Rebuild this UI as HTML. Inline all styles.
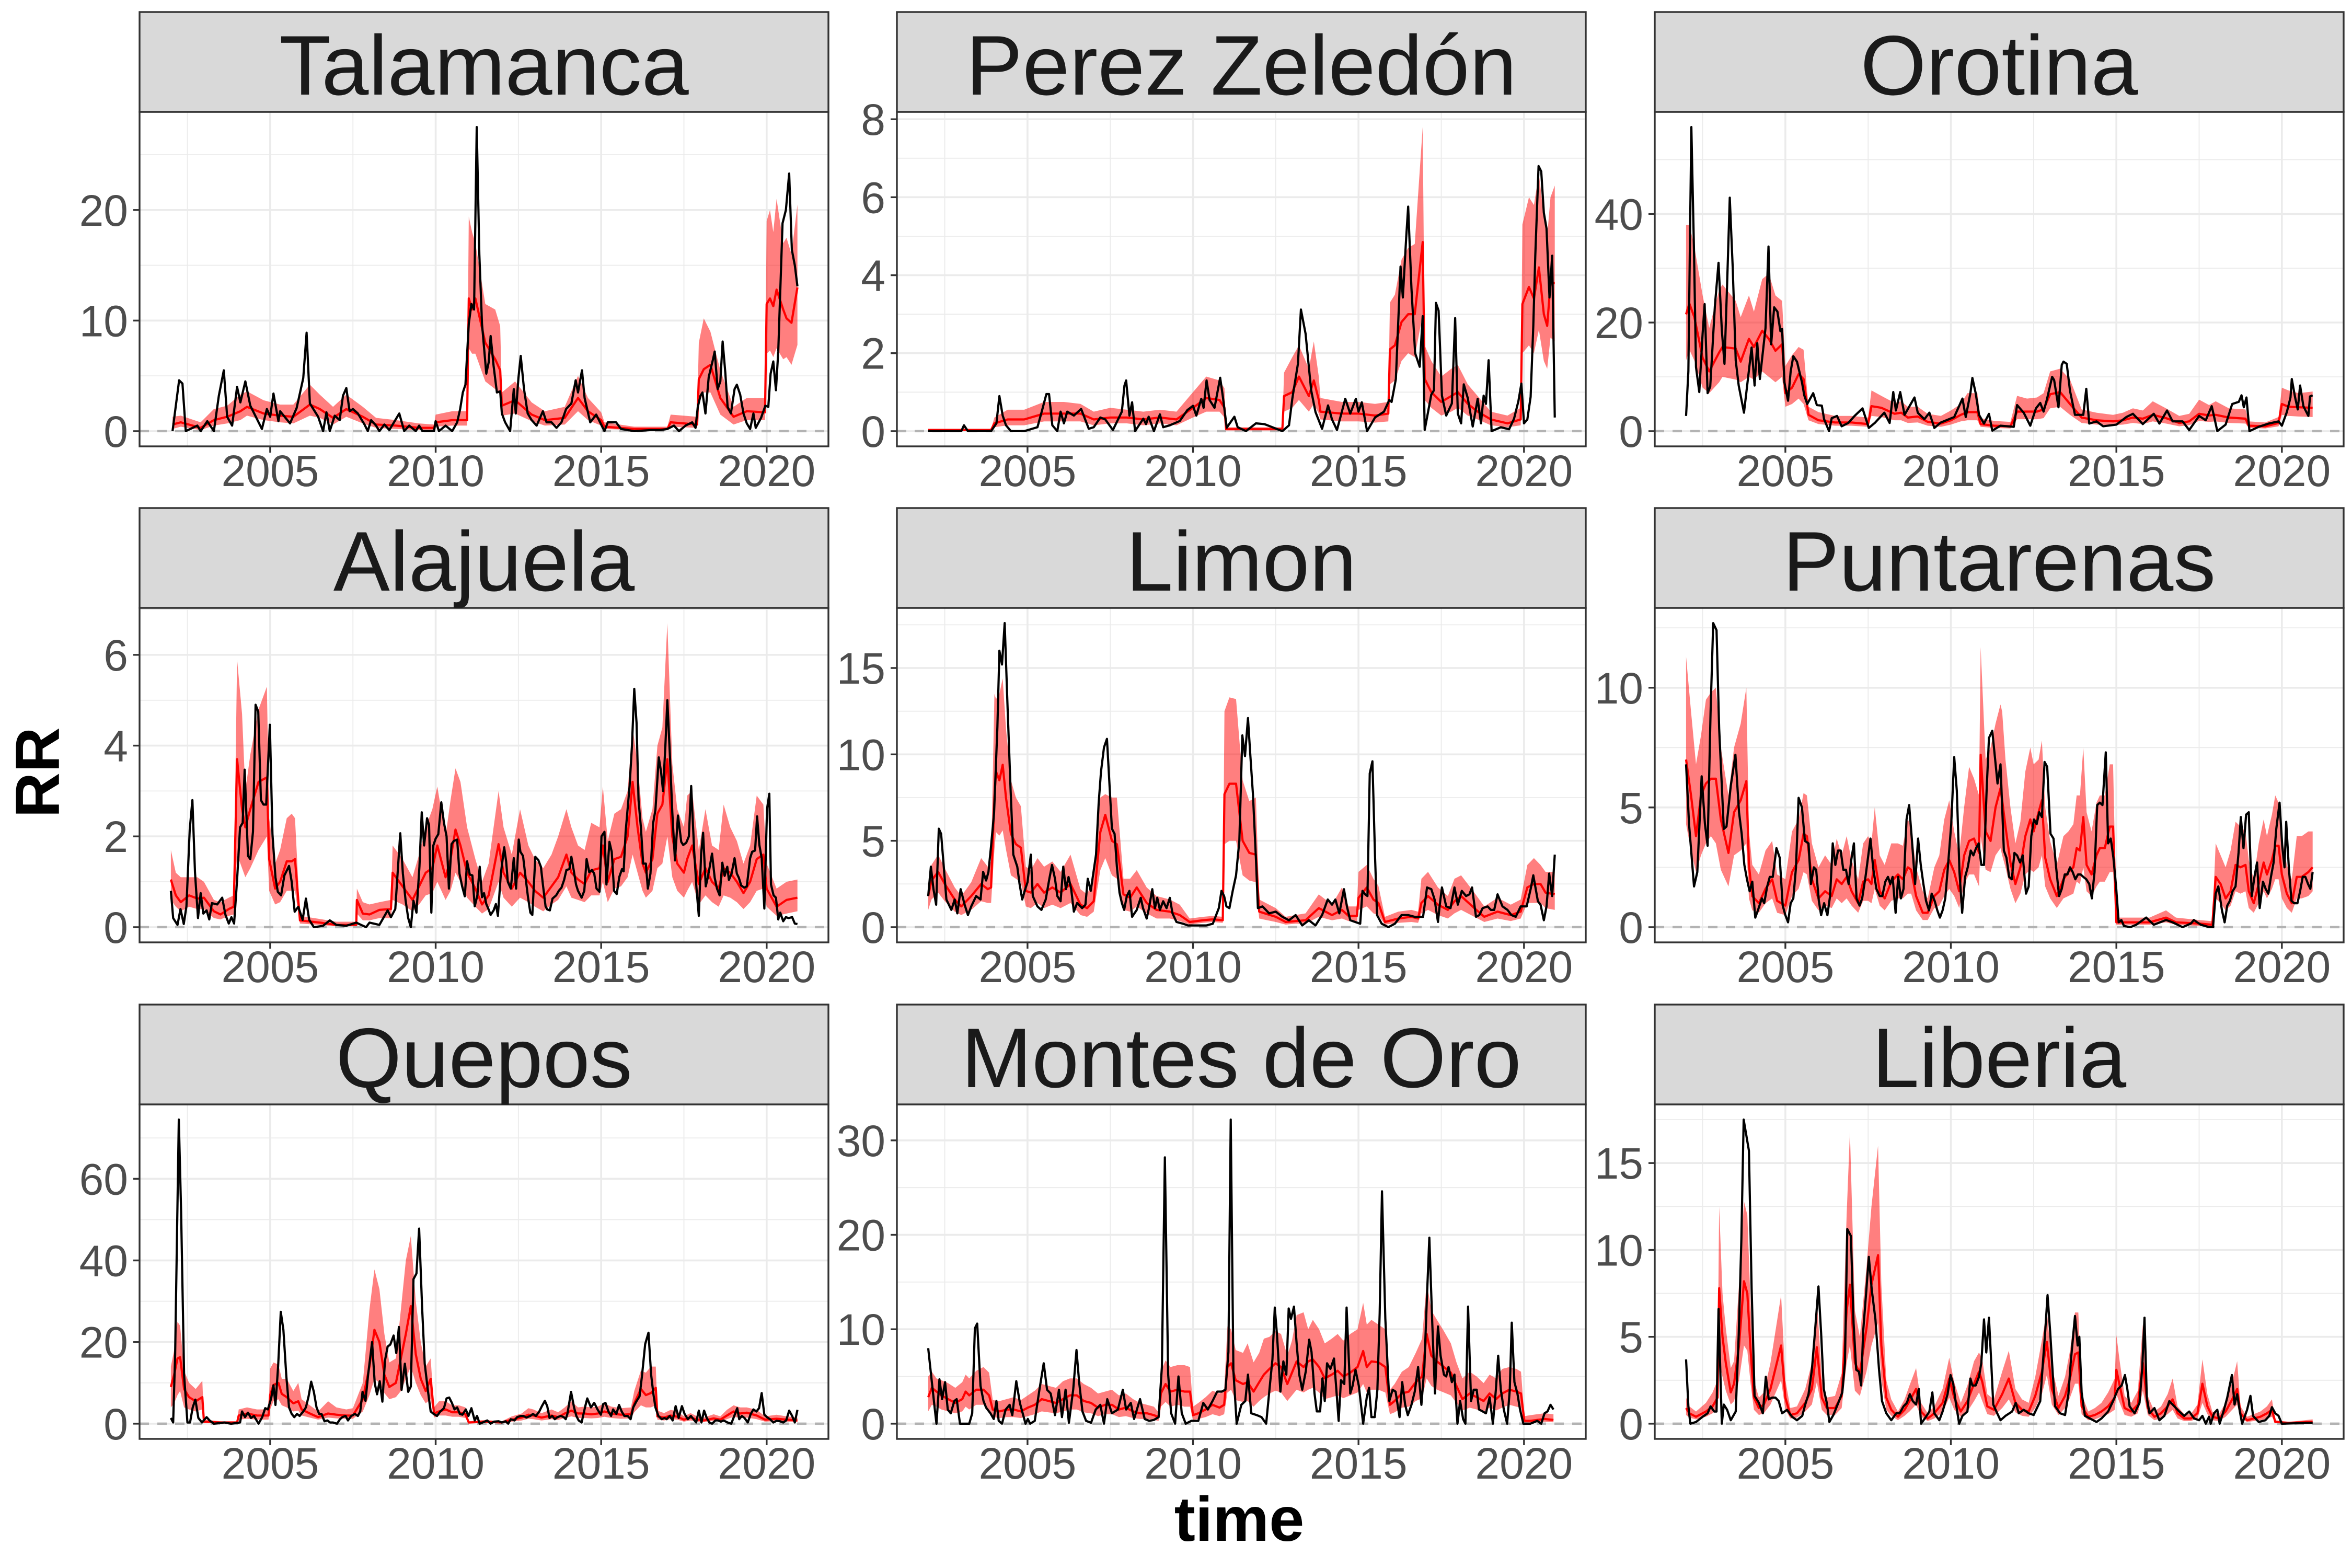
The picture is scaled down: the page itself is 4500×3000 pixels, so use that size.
<!DOCTYPE html>
<html><head><meta charset="utf-8"><title>RR over time by canton</title>
<style>
html,body{margin:0;padding:0;background:#fff;}
svg{display:block;}
text{font-family:"Liberation Sans",Arial,sans-serif;}
</style></head>
<body>
<svg id="chart" xmlns="http://www.w3.org/2000/svg" width="4500" height="3000" viewBox="0 0 4500 3000">
<rect x="0" y="0" width="4500" height="3000" fill="#ffffff"/>
<text x="72" y="1478" font-size="120" font-weight="bold" fill="#000" text-anchor="middle" dominant-baseline="central" transform="rotate(-90 72 1478)">RR</text>
<text x="2371" y="2948" font-size="121" font-weight="bold" fill="#000" text-anchor="middle">time</text>
</svg>
<script>
// ---------- data ----------
const xTicks = [2005, 2010, 2015, 2020];
const xMinorTicks = [2002.5, 2007.5, 2012.5, 2017.5];
const timeStart = 2002.0;
const timeEnd = 2020.92;

const talamancaTicks = [0, 10, 20];
const perezTicks = [0, 2, 4, 6, 8];
const orotinaTicks = [0, 20, 40];
const alajuelaTicks = [0, 2, 4, 6];
const limonTicks = [0, 5, 10, 15];
const puntarenasTicks = [0, 5, 10];
const queposTicks = [0, 20, 40, 60];
const montesTicks = [0, 10, 20, 30];
const liberiaTicks = [0, 5, 10, 15];

// observed RR [time, value]
const talamancaBlack = [[2002.05,0],[2002.25,4.6],[2002.35,4.3],[2002.45,0],[2002.8,0.5],[2002.9,0],[2003.1,0.9],[2003.3,0],[2003.45,3.2],[2003.6,5.5],[2003.7,1.3],[2003.85,0.5],[2004.0,4],[2004.1,2.6],[2004.25,4.5],[2004.4,2.3],[2004.75,0.2],[2004.9,2],[2005.0,1.3],[2005.1,3.4],[2005.25,0.9],[2005.3,1.8],[2005.6,0.7],[2005.8,2.1],[2006.0,4.8],[2006.1,8.9],[2006.2,2.5],[2006.45,1.3],[2006.6,0],[2006.7,1.7],[2006.8,0],[2006.95,1.4],[2007.1,1],[2007.2,3.2],[2007.3,3.9],[2007.4,1.8],[2007.5,2],[2007.65,1.6],[2007.85,0.6],[2007.95,0],[2008.05,1],[2008.2,0.5],[2008.3,0],[2008.45,0.6],[2008.6,0.1],[2008.9,1.6],[2009.05,0],[2009.2,0.5],[2009.4,0],[2009.5,0.5],[2009.6,0],[2009.95,0],[2010.0,0.9],[2010.1,0],[2010.3,0.5],[2010.5,0],[2010.65,0.8],[2010.74,2],[2010.82,3.5],[2010.9,4.2],[2011.0,9.7],[2011.08,11.5],[2011.16,11],[2011.24,27.5],[2011.32,16],[2011.4,9.7],[2011.53,5.2],[2011.6,6.2],[2011.66,8.6],[2011.75,5.9],[2011.85,3.5],[2011.95,3.6],[2012.0,1.6],[2012.1,0.8],[2012.25,0],[2012.36,3.8],[2012.42,1.6],[2012.5,4.8],[2012.57,6.8],[2012.67,3.8],[2012.78,1.6],[2012.9,1.0],[2013.05,0.5],[2013.24,1.8],[2013.35,0.8],[2013.5,0.8],[2013.65,0.3],[2013.8,0.8],[2013.94,2],[2014.1,2.5],[2014.23,4.6],[2014.3,3.5],[2014.42,5.5],[2014.5,3.0],[2014.67,0.8],[2014.85,1.5],[2015.1,0],[2015.2,0.8],[2015.45,0.8],[2015.6,0.2],[2016.0,0],[2016.5,0.1],[2016.8,0.1],[2017.0,0.2],[2017.2,0.5],[2017.35,0],[2017.55,0.5],[2017.75,0.8],[2017.85,0.3],[2017.92,2.2],[2018.0,3.2],[2018.06,3.5],[2018.15,1.6],[2018.25,4.9],[2018.38,6.5],[2018.43,7.2],[2018.52,3.8],[2018.6,4.5],[2018.67,8.1],[2018.75,5.3],[2018.82,2.2],[2018.92,1.6],[2019.03,3.8],[2019.1,4.2],[2019.2,3.3],[2019.3,1.6],[2019.4,0.7],[2019.5,0.2],[2019.6,1.6],[2019.67,0.3],[2019.83,1.2],[2019.96,2.3],[2020.05,2.2],[2020.12,5.2],[2020.2,6.3],[2020.28,3.7],[2020.35,7.2],[2020.48,18.8],[2020.58,20],[2020.68,23.3],[2020.76,16.4],[2020.85,15],[2020.93,13.1]];
// fitted [time, mean, lower, upper]
const talamancaFit = [[2002.05,0.6,0.2,1.3],[2002.3,0.8,0.4,1.4],[2002.9,0.3,0.1,0.8],[2003.3,1.0,0.5,2.0],[2003.7,1.3,0.7,2.3],[2004.1,1.8,1.0,3.3],[2004.3,2.2,1.4,3.6],[2004.8,1.6,1.0,2.8],[2005.3,1.4,0.8,2.4],[2005.7,1.3,0.7,2.4],[2006.2,2.4,1.4,4.2],[2006.5,2.0,1.2,3.3],[2006.9,1.2,0.6,2.2],[2007.3,2.0,1.3,3.3],[2007.8,1.3,0.7,2.2],[2008.2,0.6,0.3,1.2],[2008.8,0.5,0.2,1.0],[2009.5,0.3,0.1,0.7],[2009.95,0.3,0.1,0.6],[2010.0,0.8,0.4,1.5],[2010.5,1.0,0.5,1.8],[2010.95,1.0,0.5,1.8],[2011.0,12,7.5,19.4],[2011.1,11,7,18],[2011.2,12,7,17],[2011.5,8,4.5,11.5],[2011.8,6.5,3.8,11],[2011.95,5.5,3.3,9.5],[2012.0,2.3,1.4,3.5],[2012.4,2.8,1.6,4.5],[2012.9,1.5,0.9,2.6],[2013.3,1.0,0.5,1.8],[2013.9,1.2,0.6,2.2],[2014.3,3.0,1.8,5.0],[2014.6,1.8,1.0,3.0],[2015.0,1.0,0.5,1.7],[2015.1,0.4,0.2,0.8],[2016.0,0.2,0.1,0.4],[2017.0,0.2,0.1,0.4],[2017.1,0.8,0.4,1.5],[2017.9,0.6,0.3,1.3],[2017.95,4.7,2.5,8],[2018.1,5.6,3.5,10.2],[2018.3,6,3.5,9],[2018.6,3,1.5,5.5],[2019.0,1.3,0.6,2.2],[2019.4,1.8,1.0,3.0],[2019.95,1.7,1.0,3.0],[2020.0,11.5,7,19],[2020.1,12,7.3,20],[2020.2,11.3,6.7,18],[2020.3,12.8,7.5,21],[2020.5,11,6.5,17],[2020.6,10.2,6.7,17.5],[2020.75,9.8,6,16],[2020.93,13,7.8,20.5]];

const perezBlack = [[2002.0,0],[2003.0,0],[2003.08,0.15],[2003.2,0],[2003.9,0],[2004.06,0.2],[2004.15,0.9],[2004.25,0.4],[2004.35,0.15],[2004.5,0],[2004.9,0],[2005.3,0.1],[2005.43,0.5],[2005.57,0.95],[2005.65,0.95],[2005.75,0.15],[2005.9,0],[2006.0,0.5],[2006.1,0.2],[2006.2,0.5],[2006.4,0.4],[2006.62,0.57],[2006.85,0.06],[2007.0,0.1],[2007.2,0.35],[2007.35,0.3],[2007.58,0.03],[2007.85,0.5],[2007.93,1.17],[2007.98,1.3],[2008.08,0.4],[2008.16,0.74],[2008.25,0],[2008.5,0.32],[2008.58,0.18],[2008.66,0.37],[2008.82,0],[2009.0,0.43],[2009.1,0.1],[2009.3,0.15],[2009.6,0.26],[2009.83,0.54],[2010.0,0.65],[2010.1,0.4],[2010.25,0.83],[2010.32,0.6],[2010.41,1.3],[2010.5,0.8],[2010.65,0.6],[2010.82,1.37],[2010.9,0.9],[2011.02,0.09],[2011.25,0.37],[2011.35,0.1],[2011.6,0],[2011.9,0.2],[2012.16,0.18],[2012.4,0.1],[2012.7,0],[2012.9,0.15],[2013.0,0.83],[2013.17,1.73],[2013.26,3.12],[2013.4,2.5],[2013.57,1.05],[2013.7,0.49],[2013.9,0.06],[2014.08,0.66],[2014.2,0.3],[2014.35,0.03],[2014.6,0.83],[2014.75,0.45],[2014.92,0.83],[2015.0,0.5],[2015.1,0.74],[2015.26,0],[2015.5,0.35],[2015.77,0.5],[2015.93,0.8],[2016.0,0.75],[2016.13,1.34],[2016.27,4.22],[2016.34,3.43],[2016.44,4.96],[2016.5,5.76],[2016.6,3.66],[2016.71,2.0],[2016.85,1.65],[2016.94,2.95],[2017.0,0.03],[2017.2,0.94],[2017.28,1.05],[2017.34,3.29],[2017.42,3.09],[2017.52,0.91],[2017.65,0.4],[2017.82,0.71],[2017.92,2.9],[2018.0,0.45],[2018.1,0.2],[2018.18,1.2],[2018.3,0.85],[2018.45,0.12],[2018.6,0.83],[2018.7,0.2],[2018.78,0.91],[2018.85,0.7],[2018.93,1.82],[2019.02,0],[2019.3,0.1],[2019.55,0.05],[2019.7,0.32],[2019.83,0.77],[2019.92,1.22],[2020.0,0.2],[2020.1,0.3],[2020.2,0.88],[2020.28,2.7],[2020.34,4.5],[2020.44,6.8],[2020.52,6.66],[2020.6,5.6],[2020.68,5.2],[2020.77,3.43],[2020.85,4.5],[2020.93,0.35]];
const perezFit = [[2002.0,0.03,0.01,0.06],[2003.9,0.03,0.01,0.06],[2004.0,0.2,0.1,0.35],[2004.4,0.3,0.15,0.55],[2004.9,0.3,0.15,0.55],[2005.5,0.45,0.25,0.75],[2006.1,0.45,0.25,0.75],[2006.6,0.45,0.25,0.7],[2007.0,0.3,0.15,0.5],[2007.5,0.35,0.2,0.6],[2008.0,0.35,0.2,0.55],[2008.5,0.3,0.15,0.5],[2009.0,0.35,0.2,0.55],[2009.5,0.3,0.15,0.5],[2010.0,0.6,0.35,1.0],[2010.4,0.85,0.5,1.4],[2010.8,0.8,0.5,1.3],[2010.95,0.6,0.35,1.1],[2011.0,0.05,0.02,0.1],[2012.7,0.05,0.02,0.1],[2012.75,0.9,0.5,1.5],[2013.0,1.0,0.6,1.9],[2013.2,1.4,0.8,2.2],[2013.5,0.9,0.5,1.6],[2013.65,1.3,0.7,2.3],[2013.8,0.8,0.45,1.4],[2013.85,0.5,0.3,0.85],[2014.5,0.45,0.25,0.75],[2015.0,0.45,0.25,0.75],[2015.5,0.4,0.22,0.7],[2015.9,0.45,0.25,0.75],[2015.95,2.1,1.2,3.3],[2016.1,2.2,1.3,3.5],[2016.3,2.8,1.8,4.4],[2016.5,3.0,2.0,4.7],[2016.7,3.0,1.9,4.8],[2016.94,4.85,3.0,7.8],[2017.0,1.34,0.8,2.2],[2017.2,1.0,0.6,1.8],[2017.5,0.75,0.4,1.4],[2017.8,0.9,0.5,1.6],[2018.0,1.0,0.6,1.7],[2018.3,0.7,0.4,1.2],[2018.6,0.5,0.3,0.9],[2019.0,0.3,0.15,0.5],[2019.5,0.2,0.1,0.4],[2019.9,0.3,0.15,0.6],[2019.95,3.26,2.0,5.3],[2020.15,3.7,2.2,6.0],[2020.3,3.4,2.0,5.8],[2020.45,4.2,2.6,6.6],[2020.6,3.0,1.8,5.5],[2020.7,2.7,1.6,5.0],[2020.8,3.8,2.4,6.0],[2020.93,3.8,2.3,6.3]];

const orotinaBlack = [[2002.0,2.8],[2002.07,11],[2002.16,56],[2002.24,33],[2002.3,11.8],[2002.4,7.2],[2002.5,18],[2002.56,23.4],[2002.65,7],[2002.73,8.2],[2002.87,23],[2002.98,31],[2003.08,18.6],[2003.16,12.4],[2003.24,27],[2003.32,43],[2003.41,30],[2003.5,13],[2003.59,8.4],[2003.75,3.4],[2003.91,11.8],[2003.98,15.4],[2004.07,8.4],[2004.15,16.2],[2004.23,9.6],[2004.4,19],[2004.49,34],[2004.57,16],[2004.66,22.8],[2004.76,22],[2004.85,18.4],[2004.9,18.8],[2004.97,9],[2005.08,5.6],[2005.16,11],[2005.24,13.8],[2005.35,12.8],[2005.5,9],[2005.57,6.6],[2005.66,5],[2005.84,7],[2005.95,4.8],[2006.1,4.7],[2006.17,2.2],[2006.32,0],[2006.4,2.4],[2006.56,2.8],[2006.7,0.9],[2006.9,1.5],[2007.09,2.8],[2007.33,4.2],[2007.52,0.6],[2007.7,1.5],[2007.99,3.4],[2008.15,1.5],[2008.26,7.2],[2008.34,3.8],[2008.47,7.2],[2008.6,3.0],[2008.9,6.2],[2009.0,3.4],[2009.2,2.2],[2009.35,3.4],[2009.5,0.6],[2009.7,1.6],[2010.1,2.6],[2010.35,6],[2010.45,2.6],[2010.59,7],[2010.65,9.8],[2010.75,7],[2010.85,3],[2011.0,1.4],[2011.15,3.2],[2011.25,0.1],[2011.5,1.0],[2011.9,0.8],[2012.0,4.8],[2012.2,3.4],[2012.4,1.0],[2012.57,4.2],[2012.7,5.2],[2012.8,3.6],[2012.9,5.8],[2013.06,10],[2013.12,9.4],[2013.25,4.4],[2013.35,12.2],[2013.4,12.8],[2013.5,12.4],[2013.6,7.4],[2013.75,3.0],[2014.0,3.0],[2014.09,7.8],[2014.18,1.4],[2014.4,1.8],[2014.6,0.9],[2015.0,1.2],[2015.3,2.6],[2015.5,3.2],[2015.8,1.3],[2016.13,3.2],[2016.3,1.4],[2016.53,3.8],[2016.7,1.8],[2017.0,1.8],[2017.2,0.2],[2017.5,2.8],[2017.7,2.0],[2017.88,4.6],[2017.97,2.2],[2018.05,0],[2018.3,1.2],[2018.5,5.0],[2018.7,5.4],[2018.78,6.6],[2018.85,4.4],[2018.93,6.2],[2019.02,0],[2019.3,0.8],[2019.6,1.4],[2019.9,1.8],[2020.0,1.0],[2020.15,3.5],[2020.26,6.2],[2020.3,9.6],[2020.4,6.2],[2020.48,4.0],[2020.55,8.4],[2020.65,4.6],[2020.8,2.8],[2020.85,6.4],[2020.93,6.6]];
const orotinaFit = [[2002.0,21.5,13,38],[2002.1,23.5,15,38],[2002.25,21,13,34],[2002.5,13.5,8,25],[2002.7,11,7,19],[2003.0,14.5,9,26],[2003.1,15.5,10,27],[2003.5,15.2,9.5,24],[2003.65,12.8,9,21],[2003.9,17,10,25],[2004.05,15.5,9.5,22],[2004.3,18.5,11,28],[2004.5,17,10,29],[2004.7,14.8,9,25],[2004.9,16,10,24],[2005.0,7,4.5,12],[2005.2,8,5,14],[2005.4,10.5,6,15.5],[2005.55,9.6,5,15],[2005.7,3.0,2.0,4.5],[2006.0,2.0,1.3,3.5],[2006.5,1.6,1.0,2.8],[2007.0,1.6,1.0,2.8],[2007.5,1.3,0.8,2.5],[2007.6,4.6,2.8,7.5],[2007.9,4.3,2.6,6.5],[2008.3,3.2,2.0,5.2],[2008.5,3.4,2.0,5.5],[2008.7,2.5,1.5,4.5],[2009.0,2.7,1.6,4.5],[2009.3,1.7,1.0,3.2],[2009.7,1.4,0.8,2.8],[2010.0,2.0,1.2,3.8],[2010.3,3.0,1.8,5.0],[2010.5,3.5,2.0,7.0],[2010.8,3.5,2.0,7.0],[2010.9,1.3,0.8,2.4],[2011.3,1.0,0.6,1.9],[2011.8,0.9,0.5,1.7],[2012.0,3.6,2.2,6.5],[2012.3,3.6,2.2,6.0],[2012.6,3.6,2.2,6.2],[2012.8,4.0,2.4,7.0],[2013.0,6.8,4.2,11],[2013.3,7.2,4.5,11.5],[2013.6,5.0,3.0,9.5],[2013.95,2.5,1.5,4.0],[2014.4,2.0,1.2,3.4],[2014.9,1.8,1.1,3.0],[2015.2,2.0,1.2,3.4],[2015.5,2.5,1.5,4.2],[2015.8,2.3,1.3,3.8],[2016.1,3.0,1.8,5.5],[2016.5,2.4,1.4,4.2],[2016.9,1.5,0.9,2.8],[2017.2,1.8,1.1,3.2],[2017.5,3.2,1.9,5.8],[2017.8,2.9,1.7,4.8],[2018.0,3.0,1.8,5.5],[2018.4,2.5,1.5,4.2],[2018.9,2.3,1.4,4.0],[2019.0,1.0,0.6,1.8],[2019.5,0.9,0.5,1.6],[2019.9,1.5,0.9,2.6],[2020.0,5.0,3.0,8.0],[2020.2,4.5,2.8,7.5],[2020.5,4.4,2.7,7.0],[2020.93,4.3,2.6,7.3]];

const alajuelaBlack = [[2002.0,0.8],[2002.07,0.2],[2002.2,0.05],[2002.29,0.4],[2002.39,0.07],[2002.47,0.46],[2002.57,2.15],[2002.65,2.8],[2002.73,1.2],[2002.82,0.2],[2002.9,0.75],[2002.98,0.3],[2003.08,0.37],[2003.16,0.17],[2003.24,0.53],[2003.4,0.5],[2003.55,0.65],[2003.65,0.27],[2003.75,0.08],[2003.83,0.22],[2003.91,0.08],[2004.0,1.04],[2004.09,2.2],[2004.17,2.3],[2004.23,3.47],[2004.33,1.57],[2004.4,1.5],[2004.48,2.1],[2004.56,4.9],[2004.64,4.75],[2004.72,2.8],[2004.8,2.7],[2004.88,2.7],[2004.99,4.46],[2005.07,2.05],[2005.16,1.1],[2005.23,0.78],[2005.33,0.7],[2005.43,1.14],[2005.57,1.35],[2005.65,1.0],[2005.74,0.34],[2005.85,0.45],[2005.98,0.16],[2006.08,0.63],[2006.18,0.16],[2006.32,0],[2006.6,0.03],[2006.8,0.15],[2007.0,0.05],[2007.3,0.03],[2007.6,0.1],[2007.75,0.05],[2007.9,0],[2008.0,0.1],[2008.3,0.05],[2008.55,0.37],[2008.65,0.22],[2008.78,0.4],[2008.85,1.18],[2008.93,2.07],[2009.01,1.18],[2009.09,0.6],[2009.17,0.2],[2009.25,0],[2009.33,0.58],[2009.42,0.32],[2009.51,1.33],[2009.58,2.53],[2009.65,1.8],[2009.74,2.4],[2009.8,2.25],[2009.87,0.32],[2009.93,1.8],[2010.0,1.95],[2010.08,2.05],[2010.17,2.75],[2010.25,2.3],[2010.33,2.0],[2010.4,0.85],[2010.48,1.83],[2010.55,1.9],[2010.65,1.93],[2010.72,1.18],[2010.8,0.9],[2010.88,0.68],[2010.95,1.45],[2011.03,1.16],[2011.11,1.14],[2011.18,0.46],[2011.26,0.7],[2011.33,1.33],[2011.4,0.66],[2011.46,0.75],[2011.53,0.51],[2011.59,0.41],[2011.66,0.27],[2011.75,0.37],[2011.82,0.51],[2011.88,0.25],[2011.97,1.18],[2012.07,1.76],[2012.13,1.45],[2012.18,1.0],[2012.27,0.85],[2012.36,1.52],[2012.43,0.85],[2012.51,1.93],[2012.56,1.66],[2012.64,1.57],[2012.71,1.13],[2012.79,0.66],[2012.86,0.32],[2012.92,0.27],[2013.01,1.55],[2013.1,1.48],[2013.18,1.33],[2013.24,0.94],[2013.32,0.46],[2013.37,0.39],[2013.45,0.37],[2013.53,0.63],[2013.64,0.7],[2013.72,0.8],[2013.8,0.87],[2013.88,1.04],[2013.95,1.26],[2014.04,1.28],[2014.1,1.55],[2014.17,1.26],[2014.24,0.94],[2014.3,0.8],[2014.41,0.65],[2014.49,0.8],[2014.56,1.5],[2014.64,1.21],[2014.72,1.26],[2014.79,1.18],[2014.86,0.85],[2014.95,0.78],[2015.01,2.0],[2015.1,2.1],[2015.16,0.94],[2015.25,1.88],[2015.32,1.66],[2015.39,0.8],[2015.47,0.73],[2015.55,1.11],[2015.63,1.28],[2015.68,1.23],[2015.74,2.1],[2015.86,3.11],[2015.93,4.0],[2016.0,5.25],[2016.07,4.5],[2016.13,2.8],[2016.2,2.2],[2016.27,1.4],[2016.35,1.4],[2016.41,0.85],[2016.49,1.18],[2016.57,2.29],[2016.64,2.58],[2016.74,3.74],[2016.81,3.42],[2016.87,3.0],[2016.94,3.98],[2017.0,5.0],[2017.08,3.74],[2017.15,2.53],[2017.23,1.47],[2017.32,2.46],[2017.42,1.88],[2017.48,1.81],[2017.57,1.86],[2017.65,2.0],[2017.72,3.11],[2017.81,1.69],[2017.88,0.85],[2017.95,0.25],[2018.02,1.61],[2018.08,2.08],[2018.16,0.9],[2018.22,1.09],[2018.28,1.33],[2018.35,1.62],[2018.43,1.09],[2018.5,0.85],[2018.58,0.7],[2018.66,1.42],[2018.73,1.13],[2018.81,1.33],[2018.86,1.04],[2018.94,1.18],[2019.03,1.52],[2019.1,1.18],[2019.16,1.09],[2019.23,0.92],[2019.32,0.87],[2019.4,0.9],[2019.5,1.52],[2019.56,1.66],[2019.65,1.69],[2019.71,2.44],[2019.78,1.81],[2019.85,1.52],[2019.93,0.41],[2020.01,2.6],[2020.08,2.94],[2020.13,0.94],[2020.21,0.7],[2020.28,0.65],[2020.35,0.17],[2020.41,0.32],[2020.5,0.13],[2020.58,0.22],[2020.66,0.2],[2020.77,0.22],[2020.85,0.08],[2020.93,0.07]];
const alajuelaFit = [[2002.0,1.05,0.6,1.7],[2002.15,0.7,0.45,1.2],[2002.3,0.55,0.35,1.1],[2002.55,0.7,0.45,1.1],[2002.8,0.63,0.4,1.1],[2003.0,0.65,0.4,1.0],[2003.3,0.35,0.2,0.6],[2003.5,0.28,0.17,0.55],[2003.75,0.4,0.25,0.65],[2003.9,0.45,0.28,0.7],[2004.0,3.7,1.6,5.9],[2004.15,2.6,1.3,4.7],[2004.25,2.2,1.1,3.0],[2004.4,2.6,1.3,3.8],[2004.65,3.2,1.7,4.8],[2004.9,3.3,2.0,5.3],[2004.97,1.5,0.8,2.4],[2005.15,0.85,0.5,1.4],[2005.3,1.0,0.55,1.7],[2005.5,1.45,0.8,2.4],[2005.65,1.45,0.8,2.5],[2005.75,1.5,0.8,2.4],[2005.9,0.15,0.08,0.25],[2006.5,0.1,0.05,0.18],[2007.0,0.05,0.02,0.12],[2007.6,0.05,0.02,0.12],[2007.62,0.6,0.3,0.85],[2007.8,0.3,0.15,0.55],[2008.0,0.28,0.15,0.5],[2008.3,0.38,0.2,0.55],[2008.65,0.4,0.2,0.6],[2008.7,1.2,0.6,1.8],[2009.0,0.9,0.5,1.5],[2009.3,0.6,0.35,1.1],[2009.5,0.9,0.5,1.6],[2009.7,1.2,0.7,2.2],[2009.9,1.3,0.75,2.6],[2010.05,1.8,1.0,3.1],[2010.3,1.1,0.6,2.0],[2010.45,1.5,0.8,2.8],[2010.6,2.15,1.2,3.5],[2010.75,1.8,1.0,3.2],[2010.95,1.2,0.65,2.2],[2011.2,0.85,0.45,1.5],[2011.4,0.5,0.3,1.0],[2011.6,0.7,0.4,1.4],[2011.9,1.83,1.0,3.0],[2012.05,1.2,0.65,2.2],[2012.3,0.85,0.45,1.6],[2012.55,1.2,0.65,2.6],[2012.8,1.0,0.55,1.8],[2013.0,0.8,0.45,1.5],[2013.25,0.65,0.35,1.3],[2013.5,0.9,0.5,1.6],[2013.7,1.1,0.6,2.0],[2013.95,1.6,0.9,2.6],[2014.1,1.2,0.65,2.2],[2014.3,1.05,0.6,1.8],[2014.5,0.95,0.55,1.7],[2014.7,1.25,0.7,2.3],[2014.95,1.3,0.7,2.2],[2015.05,1.8,1.0,3.1],[2015.2,1.0,0.55,1.9],[2015.4,1.5,0.85,2.5],[2015.6,1.55,0.9,2.6],[2015.8,2.0,1.1,3.0],[2015.95,3.2,1.6,4.4],[2016.1,2.2,1.2,3.6],[2016.25,1.4,0.8,2.4],[2016.35,1.2,0.65,2.1],[2016.55,1.5,0.8,2.6],[2016.7,2.5,1.3,4.0],[2016.85,2.7,1.4,4.4],[2017.0,3.7,2.0,6.7],[2017.15,2.0,1.1,3.6],[2017.3,1.4,0.8,2.6],[2017.5,1.2,0.65,2.2],[2017.6,1.5,0.8,2.9],[2017.75,1.8,1.0,3.0],[2017.95,0.95,0.5,1.7],[2018.15,1.3,0.7,2.6],[2018.35,1.0,0.55,1.8],[2018.55,0.85,0.45,1.7],[2018.7,1.3,0.7,2.7],[2018.9,1.2,0.65,2.2],[2019.1,1.0,0.55,1.9],[2019.3,0.75,0.4,1.4],[2019.5,1.0,0.55,1.8],[2019.7,1.5,0.8,2.9],[2019.9,1.6,0.85,2.7],[2020.0,0.85,0.45,1.4],[2020.3,0.45,0.25,0.85],[2020.6,0.6,0.3,1.0],[2020.93,0.65,0.35,1.05]];

const limonBlack = [[2002.0,1.8],[2002.08,3.5],[2002.16,2.2],[2002.24,1.3],[2002.32,5.7],[2002.39,5.4],[2002.47,3.5],[2002.55,1.6],[2002.7,1.0],[2002.8,1.6],[2002.88,0.8],[2002.98,2.2],[2003.1,1.3],[2003.2,0.7],[2003.3,1.2],[2003.45,1.8],[2003.58,1.6],[2003.66,3.2],[2003.75,2.7],[2003.82,3.2],[2003.9,4.7],[2003.99,6.6],[2004.09,11.6],[2004.15,16],[2004.23,15.2],[2004.31,17.6],[2004.4,12.6],[2004.49,7.9],[2004.57,4.2],[2004.69,3.5],[2004.76,2.5],[2004.84,1.6],[2004.93,2.2],[2005.0,2.6],[2005.1,4.2],[2005.16,1.8],[2005.3,1.2],[2005.42,1.0],[2005.55,1.6],[2005.66,2.8],[2005.74,3.6],[2005.83,2.8],[2005.9,1.8],[2006.0,1.5],[2006.08,3.5],[2006.16,2.2],[2006.24,2.9],[2006.32,2.2],[2006.4,0.9],[2006.5,1.4],[2006.65,1.1],[2006.75,1.3],[2006.82,2.8],[2006.91,2.1],[2007.07,4.2],[2007.15,7.2],[2007.22,9],[2007.31,10.4],[2007.4,10.9],[2007.47,8.5],[2007.55,5.7],[2007.63,5.4],[2007.7,3.5],[2007.78,2.0],[2007.85,1.4],[2007.92,1.0],[2008.0,1.8],[2008.08,2.1],[2008.16,0.6],[2008.3,1.0],[2008.42,1.7],[2008.49,1.1],[2008.6,0.5],[2008.67,1.1],[2008.77,2.2],[2008.85,1.1],[2008.92,1.7],[2009.0,1.0],[2009.1,1.5],[2009.2,1.1],[2009.3,1.7],[2009.38,0.8],[2009.5,0.3],[2009.7,0.2],[2009.85,0.1],[2010.1,0.1],[2010.4,0.1],[2010.6,0.2],[2010.78,1.1],[2010.86,2.1],[2010.94,1.8],[2011.01,1.2],[2011.1,1.1],[2011.2,2.1],[2011.3,3.0],[2011.4,5.0],[2011.49,11.1],[2011.57,9.9],[2011.66,12.1],[2011.73,10],[2011.81,7.7],[2011.9,4.0],[2011.96,1.1],[2012.1,1.2],[2012.3,0.8],[2012.5,0.9],[2012.7,0.6],[2012.9,0.4],[2013.1,0.7],[2013.3,0.1],[2013.5,0.4],[2013.7,0.1],[2013.9,0.7],[2014.07,1.6],[2014.2,1.3],[2014.3,1.6],[2014.42,0.8],[2014.56,2.2],[2014.65,1.2],[2014.75,0.4],[2014.9,0.3],[2015.05,0.2],[2015.12,2.1],[2015.2,1.9],[2015.27,1.8],[2015.34,8.9],[2015.42,9.6],[2015.5,4.1],[2015.56,0.7],[2015.7,0.2],[2015.9,0.0],[2016.1,0.2],[2016.3,0.7],[2016.5,0.7],[2016.7,0.6],[2016.95,0.6],[2017.07,2.3],[2017.2,2.2],[2017.3,1.6],[2017.4,0.3],[2017.45,1.2],[2017.52,2.3],[2017.65,1.2],[2017.78,1.1],[2017.9,2.3],[2018.0,1.3],[2018.12,2.1],[2018.25,1.8],[2018.35,1.9],[2018.43,2.3],[2018.55,0.6],[2018.65,0.7],[2018.75,1.1],[2018.9,1.2],[2019.0,1.0],[2019.1,1.0],[2019.2,1.9],[2019.35,1.2],[2019.5,1.0],[2019.62,0.7],[2019.75,0.6],[2019.9,1.2],[2020.08,1.2],[2020.2,2.2],[2020.28,3.0],[2020.42,1.5],[2020.5,1.3],[2020.6,0.4],[2020.68,1.2],[2020.76,3.1],[2020.85,1.8],[2020.93,4.2]];
const limonFit = [[2002.0,1.8,1.0,2.5],[2002.1,2.7,1.6,3.6],[2002.3,3.2,2.0,4.2],[2002.5,2.5,1.5,3.4],[2002.8,1.6,0.9,2.3],[2003.0,1.2,0.7,1.8],[2003.3,1.8,1.0,2.6],[2003.6,2.5,1.5,4.0],[2003.8,2.2,1.4,3.5],[2003.9,2.3,1.4,3.8],[2004.0,7.5,4.5,13.5],[2004.05,9,5.5,13.2],[2004.15,8.5,5.3,13.5],[2004.25,9.4,5.6,14.4],[2004.35,7.5,4.5,11.5],[2004.5,5.4,3.0,8.5],[2004.65,4.8,2.8,7.5],[2004.8,4.6,2.6,7.0],[2004.95,2.1,1.2,3.5],[2005.1,2.0,1.1,3.3],[2005.3,2.5,1.4,4.0],[2005.5,2.0,1.1,3.5],[2005.75,2.3,1.3,3.8],[2006.0,2.0,1.1,3.2],[2006.3,2.5,1.4,4.2],[2006.6,1.3,0.7,2.2],[2006.8,1.1,0.6,1.9],[2007.0,1.5,0.9,2.8],[2007.2,5.5,3.3,7.5],[2007.35,6.5,4.0,7.7],[2007.55,5.0,3.0,7.5],[2007.7,4.8,2.8,7.5],[2007.9,1.9,1.0,2.8],[2008.1,1.7,0.9,2.8],[2008.3,2.3,1.2,3.3],[2008.6,1.4,0.8,2.3],[2008.9,1.0,0.5,1.8],[2009.3,0.9,0.5,1.6],[2009.6,0.7,0.35,1.3],[2009.9,0.3,0.15,0.5],[2010.3,0.4,0.25,0.6],[2010.6,0.45,0.3,0.65],[2010.9,0.4,0.25,0.6],[2010.95,7.7,4.8,12.5],[2011.1,8.3,5.0,13.3],[2011.3,8.3,5.0,13.2],[2011.5,5.0,3.0,8.5],[2011.7,4.3,2.7,7.3],[2011.9,4.2,2.6,7.5],[2012.0,0.9,0.5,1.6],[2012.5,0.6,0.3,1.1],[2012.8,0.3,0.15,0.6],[2013.1,0.35,0.2,0.7],[2013.4,0.4,0.2,0.8],[2013.8,1.1,0.6,1.9],[2014.2,0.7,0.4,1.3],[2014.5,1.0,0.5,2.3],[2014.7,0.65,0.35,1.2],[2014.95,0.65,0.35,1.2],[2015.0,1.7,1.0,3.2],[2015.25,2.3,1.2,3.6],[2015.45,1.6,0.8,2.8],[2015.6,1.4,0.7,2.4],[2015.8,0.3,0.15,0.6],[2016.2,0.5,0.25,0.9],[2016.6,0.6,0.3,1.0],[2016.8,0.5,0.25,0.9],[2016.9,1.4,0.8,2.8],[2017.1,1.8,1.0,3.2],[2017.4,1.3,0.7,2.3],[2017.7,1.0,0.5,1.8],[2017.9,1.5,0.8,2.8],[2018.1,1.8,1.0,3.0],[2018.5,1.1,0.6,2.0],[2018.8,0.6,0.3,1.2],[2019.2,0.9,0.5,1.7],[2019.6,0.7,0.35,1.3],[2019.9,0.9,0.5,1.6],[2020.1,2.3,1.4,3.6],[2020.3,2.5,1.4,4.0],[2020.5,2.5,1.4,3.6],[2020.65,2.0,1.1,3.2],[2020.93,1.9,1.0,3.2]];

const puntarenasBlack = [[2002.0,6.8],[2002.09,4.3],[2002.24,1.7],[2002.34,2.3],[2002.47,6.3],[2002.57,4.3],[2002.65,3.4],[2002.74,9],[2002.82,12.7],[2002.92,12.4],[2003.0,8.3],[2003.14,4.1],[2003.22,4.2],[2003.35,5.9],[2003.49,7.2],[2003.6,4.8],[2003.68,3.9],[2003.76,2.6],[2003.84,2.0],[2003.92,1.5],[2004.0,1.9],[2004.09,0.4],[2004.17,0.7],[2004.29,1.2],[2004.36,1.0],[2004.45,1.7],[2004.53,2.1],[2004.62,2.1],[2004.73,3.3],[2004.83,2.9],[2004.92,0.9],[2005.0,0.5],[2005.08,0.2],[2005.16,1.0],[2005.24,1.2],[2005.32,2.5],[2005.4,5.4],[2005.5,5.0],[2005.59,3.6],[2005.7,3.5],[2005.77,1.8],[2005.86,2.5],[2005.93,2.4],[2006.01,1.1],[2006.08,0.5],[2006.17,1.0],[2006.27,0.5],[2006.35,1.3],[2006.43,3.5],[2006.51,2.6],[2006.59,3.2],[2006.67,3.2],[2006.75,2.4],[2006.83,2.4],[2006.91,1.8],[2006.99,2.8],[2007.07,3.5],[2007.15,1.2],[2007.24,0.9],[2007.32,1.2],[2007.42,2.1],[2007.57,3.7],[2007.65,2.5],[2007.75,1.6],[2007.85,1.3],[2007.93,1.3],[2008.02,1.9],[2008.1,2.1],[2008.17,1.8],[2008.24,2.1],[2008.33,0.6],[2008.41,2.1],[2008.49,1.2],[2008.57,1.6],[2008.66,4.5],[2008.74,5.1],[2008.82,3.7],[2008.92,1.8],[2009.01,3.7],[2009.09,2.6],[2009.17,1.8],[2009.25,1.1],[2009.34,0.7],[2009.42,1.4],[2009.51,1.1],[2009.59,0.7],[2009.67,0.4],[2009.75,0.7],[2009.83,1.2],[2009.91,2.5],[2010.01,4.3],[2010.1,7.1],[2010.18,5.7],[2010.26,2.3],[2010.34,0.6],[2010.43,2.1],[2010.51,2.5],[2010.6,3.2],[2010.68,3.0],[2010.76,3.3],[2010.84,3.5],[2010.92,2.6],[2011.0,2.6],[2011.08,5.7],[2011.15,7.9],[2011.25,8.2],[2011.33,7.1],[2011.41,6.0],[2011.5,6.8],[2011.6,3.2],[2011.68,2.9],[2011.76,2.1],[2011.84,2.0],[2011.92,3.1],[2012.0,3.0],[2012.09,2.7],[2012.17,3.0],[2012.27,1.4],[2012.35,1.7],[2012.43,3.8],[2012.51,4.5],[2012.59,4.3],[2012.67,4.8],[2012.75,4.6],[2012.83,6.9],[2012.91,6.7],[2013.01,3.9],[2013.1,3.7],[2013.18,2.5],[2013.27,1.3],[2013.35,1.6],[2013.44,2.2],[2013.52,2.2],[2013.6,2.5],[2013.68,2.3],[2013.76,2.0],[2013.84,2.2],[2013.92,2.2],[2014.0,2.1],[2014.09,2.0],[2014.18,1.8],[2014.26,1.2],[2014.34,2.3],[2014.42,5.1],[2014.5,5.2],[2014.58,5.1],[2014.68,7.3],[2014.75,3.5],[2014.83,3.7],[2014.91,2.9],[2014.99,1.7],[2015.07,0.2],[2015.15,0.3],[2015.23,0.05],[2015.42,0],[2015.6,0.1],[2015.8,0.3],[2015.9,0.4],[2016.13,0.1],[2016.5,0.3],[2016.7,0.2],[2017.0,0],[2017.25,0.15],[2017.34,0.3],[2017.55,0.1],[2017.81,0],[2017.92,0],[2018.0,1.4],[2018.08,1.7],[2018.19,0.7],[2018.27,0.2],[2018.35,0.9],[2018.43,1.1],[2018.51,1.5],[2018.6,1.7],[2018.69,3.1],[2018.76,4.6],[2018.84,3.3],[2018.92,4.7],[2019.0,4.8],[2019.09,1.3],[2019.17,2.1],[2019.25,2.7],[2019.33,0.8],[2019.43,1.9],[2019.51,1.6],[2019.59,1.4],[2019.67,2.1],[2019.75,2.7],[2019.83,4.1],[2019.93,5.2],[2020.01,3.4],[2020.08,2.5],[2020.13,4.4],[2020.21,2.5],[2020.29,1.1],[2020.37,1.0],[2020.47,1.0],[2020.55,1.5],[2020.63,2.1],[2020.71,2.1],[2020.79,1.8],[2020.86,1.6],[2020.93,2.3]];
const puntarenasFit = [[2002.0,7.0,4.3,11.3],[2002.15,5.5,3.2,9.0],[2002.3,3.8,2.3,6.8],[2002.45,5.5,3.0,8.0],[2002.6,6.0,3.5,9.5],[2002.75,6.2,3.8,9.8],[2002.9,6.2,3.5,10.0],[2003.05,4.5,2.4,7.5],[2003.28,3.1,1.7,5.5],[2003.45,4.8,3.0,7.5],[2003.65,5.3,3.2,8.5],[2003.82,6.1,3.5,10],[2003.9,2.6,1.2,4.0],[2004.0,1.3,0.7,2.6],[2004.2,1.0,0.6,2.2],[2004.4,1.6,1.0,3.2],[2004.6,2.0,1.2,3.6],[2004.75,1.1,0.6,2.2],[2005.0,0.9,0.5,2.0],[2005.2,2.3,1.3,4.0],[2005.4,2.8,1.6,4.5],[2005.55,3.9,2.3,5.6],[2005.65,3.8,2.2,5.5],[2005.8,2.0,1.1,3.5],[2006.0,1.2,0.7,2.5],[2006.2,1.5,0.9,3.0],[2006.4,1.3,0.8,2.6],[2006.55,2.0,1.2,3.7],[2006.7,1.8,1.0,3.0],[2006.85,2.1,1.2,3.8],[2007.0,1.5,0.9,2.8],[2007.2,1.0,0.6,2.0],[2007.35,1.9,1.1,3.5],[2007.5,2.0,1.1,3.8],[2007.6,1.8,1.0,3.5],[2007.7,2.8,1.6,5.0],[2007.85,1.5,0.9,3.0],[2008.0,1.2,0.7,2.6],[2008.2,1.9,1.1,3.5],[2008.4,2.2,1.2,3.5],[2008.55,2.0,1.2,3.4],[2008.7,2.5,1.4,4.5],[2008.8,2.4,1.4,4.2],[2008.95,1.3,0.7,2.5],[2009.15,0.6,0.3,1.5],[2009.3,0.6,0.3,1.2],[2009.5,1.3,0.8,2.5],[2009.65,1.5,0.9,3.0],[2009.8,2.4,1.3,4.5],[2009.95,2.8,1.6,5.3],[2010.1,2.3,1.3,4.0],[2010.25,1.5,0.8,3.0],[2010.4,3.0,1.8,5.0],[2010.55,3.6,2.2,6.7],[2010.7,3.7,2.2,6.2],[2010.85,3.1,1.7,5.5],[2010.9,7.2,3.8,11.7],[2011.05,4.0,2.4,7.0],[2011.2,3.6,2.3,7.5],[2011.35,5.0,3.0,8.5],[2011.5,5.8,3.3,9.3],[2011.55,5.3,3.0,9.0],[2011.65,4.2,2.5,7.0],[2011.8,2.7,1.6,5.0],[2011.95,1.8,1.0,3.5],[2012.1,2.5,1.4,4.4],[2012.25,3.8,2.2,6.5],[2012.4,4.5,2.4,7.5],[2012.5,4.0,2.3,6.8],[2012.65,4.8,2.5,7.0],[2012.75,5.3,3.0,7.8],[2012.85,2.9,1.7,5.0],[2013.0,2.0,1.2,3.6],[2013.2,1.3,0.8,2.6],[2013.4,2.0,1.2,3.8],[2013.55,2.3,1.3,4.0],[2013.7,2.5,1.4,4.3],[2013.8,3.3,1.9,5.5],[2013.9,3.2,1.8,5.5],[2014.0,4.6,2.5,7.5],[2014.1,2.6,1.5,4.8],[2014.25,2.2,1.3,4.0],[2014.4,3.0,1.7,5.2],[2014.5,3.3,1.9,5.5],[2014.65,3.3,1.9,5.5],[2014.8,4.2,2.3,6.8],[2014.9,4.2,2.3,6.8],[2015.0,0.2,0.1,0.4],[2015.5,0.2,0.1,0.4],[2016.0,0.2,0.1,0.4],[2016.5,0.4,0.2,0.7],[2016.8,0.2,0.1,0.4],[2017.5,0.15,0.05,0.3],[2017.9,0.1,0.05,0.25],[2018.0,2.1,1.2,3.5],[2018.15,1.8,1.0,3.0],[2018.3,1.2,0.7,2.5],[2018.45,1.5,0.9,3.2],[2018.6,2.6,1.5,4.4],[2018.75,2.5,1.4,4.2],[2018.9,2.6,1.5,4.0],[2019.0,1.5,0.8,2.8],[2019.15,1.0,0.6,2.0],[2019.3,1.8,1.0,3.5],[2019.45,2.7,1.5,4.5],[2019.55,2.2,1.2,3.8],[2019.7,2.8,1.6,4.7],[2019.8,3.4,2.0,5.5],[2019.9,3.4,2.0,5.2],[2020.0,2.2,1.2,3.8],[2020.15,1.4,0.8,2.6],[2020.3,1.0,0.6,2.0],[2020.45,2.1,1.2,3.8],[2020.6,2.1,1.2,3.8],[2020.8,2.3,1.3,4.0],[2020.93,2.5,1.5,4.0]];

const queposBlack = [[2002.0,1.4],[2002.07,0.3],[2002.13,17],[2002.24,74.5],[2002.31,52],[2002.4,12],[2002.5,0.3],[2002.58,0.3],[2002.66,4],[2002.74,5.9],[2002.83,1.4],[2002.94,0.3],[2003.08,1.6],[2003.17,0.8],[2003.3,0],[2003.62,0.3],[2003.82,0],[2004.09,0.3],[2004.15,3],[2004.24,1.6],[2004.33,2.7],[2004.42,1.4],[2004.51,1.9],[2004.65,0],[2004.76,1.6],[2004.85,3.8],[2004.93,3.5],[2005.03,6.2],[2005.1,9.4],[2005.16,4.6],[2005.24,14],[2005.32,27.4],[2005.4,23],[2005.49,11.5],[2005.57,4],[2005.65,2.4],[2005.73,1.6],[2005.81,2.4],[2005.89,1.9],[2006.0,3],[2006.08,4],[2006.16,6.7],[2006.24,10.3],[2006.32,7.8],[2006.4,4],[2006.48,2.4],[2006.55,2.4],[2006.64,0.6],[2006.73,0.8],[2006.81,0.3],[2006.9,0.3],[2007.02,0],[2007.11,1.1],[2007.18,1.6],[2007.28,1.9],[2007.35,0.8],[2007.45,1.9],[2007.56,2.4],[2007.65,1.9],[2007.72,3],[2007.79,7.8],[2007.88,5.6],[2007.96,12],[2008.08,20],[2008.16,9.9],[2008.23,7.2],[2008.31,10.4],[2008.39,5.4],[2008.47,15.5],[2008.55,18.9],[2008.63,19.4],[2008.73,21.6],[2008.81,17.3],[2008.89,23.7],[2008.97,8.3],[2009.07,14.7],[2009.17,7.8],[2009.25,9.1],[2009.33,35.4],[2009.42,36.8],[2009.5,47.8],[2009.59,28.5],[2009.67,14.7],[2009.77,7.8],[2009.85,3],[2009.94,2.4],[2010.04,1.9],[2010.14,3],[2010.25,3.8],[2010.33,6.2],[2010.41,6.4],[2010.49,5.1],[2010.57,3.5],[2010.65,4],[2010.73,2.4],[2010.81,2.2],[2010.91,3.5],[2010.99,1.9],[2011.08,3.8],[2011.18,0.8],[2011.25,1.9],[2011.33,0],[2011.42,0.3],[2011.56,0.8],[2011.66,0],[2011.76,0.5],[2011.9,0.6],[2012.0,0.3],[2012.11,0.6],[2012.19,0],[2012.27,1.1],[2012.38,0.8],[2012.46,1.6],[2012.57,1.9],[2012.65,1.9],[2012.74,1.5],[2012.86,1.9],[2012.94,2.4],[2013.03,1.9],[2013.13,3],[2013.21,4.3],[2013.3,5.6],[2013.37,4.3],[2013.44,1.4],[2013.52,1.9],[2013.6,1.1],[2013.68,1.6],[2013.78,1.9],[2013.87,1.6],[2013.93,1.1],[2013.98,2.4],[2014.09,7.8],[2014.18,4],[2014.25,1.9],[2014.32,0.8],[2014.41,0.3],[2014.52,4.3],[2014.58,6.2],[2014.69,4],[2014.79,5.1],[2014.89,3.5],[2014.99,2.2],[2015.06,4.8],[2015.13,5.1],[2015.22,3],[2015.3,1.9],[2015.36,3.5],[2015.46,2.4],[2015.54,4.6],[2015.62,3],[2015.7,1.9],[2015.8,1.9],[2015.89,1.1],[2015.97,4],[2016.06,5.4],[2016.16,6.7],[2016.23,11.5],[2016.33,19.5],[2016.43,22.3],[2016.51,12],[2016.58,7.2],[2016.64,4],[2016.73,1.9],[2016.83,1.1],[2016.91,1.4],[2016.98,1.1],[2017.07,1.9],[2017.16,0.8],[2017.25,4.3],[2017.34,1.4],[2017.44,4.3],[2017.52,2.4],[2017.62,1.1],[2017.71,1.9],[2017.79,1.1],[2017.87,0.3],[2017.95,3.2],[2018.03,0.3],[2018.11,3.2],[2018.19,1.4],[2018.27,0.3],[2018.35,0],[2018.45,0.8],[2018.53,0.8],[2018.62,0.5],[2018.7,0.8],[2018.82,0.3],[2018.93,0],[2019.02,1.9],[2019.11,3.8],[2019.17,1.1],[2019.25,1.9],[2019.33,1.4],[2019.43,0.3],[2019.52,2.4],[2019.6,3.5],[2019.69,3],[2019.77,3.8],[2019.85,7.5],[2019.93,2.2],[2020.01,1.6],[2020.1,1.1],[2020.2,0.3],[2020.3,0.7],[2020.4,0.6],[2020.5,0.3],[2020.59,0.8],[2020.68,3.2],[2020.77,1.9],[2020.85,0.3],[2020.93,3.4]];
const queposFit = [[2002.0,9,4,14],[2002.1,12,5,18],[2002.2,16,7,25],[2002.28,16.3,8,24],[2002.4,8.5,4,13],[2002.55,6.5,3.5,10],[2002.75,5.5,3,8.5],[2002.95,6.5,3.5,10.5],[2003.0,0.5,0.2,1],[2003.5,0.3,0.1,0.6],[2004.0,0.3,0.1,0.6],[2004.05,2.0,1.0,3.5],[2004.3,2.5,1.2,4],[2004.6,2.0,1.0,3.5],[2004.95,2.0,1,3.5],[2005.0,7,3.5,13.5],[2005.1,9.5,5.5,15],[2005.25,10,6,14.5],[2005.35,7.3,4.5,11],[2005.5,6.5,4,11],[2005.7,5.0,3,8],[2005.85,5.5,3.2,10],[2005.95,3.5,2,6],[2006.2,2.5,1.5,4.5],[2006.45,1.6,1,3],[2006.75,2.5,1.5,5.5],[2007.0,2.2,1.3,4],[2007.3,2.0,1.2,3.5],[2007.5,2.0,1.2,3.8],[2007.8,6,3,10],[2008.0,14,7,28],[2008.15,23,11,37.8],[2008.3,20,10,33],[2008.45,12,7.5,22],[2008.6,9,6,15],[2008.8,10,6.5,16],[2008.95,16,8,28],[2009.1,22,11,40],[2009.25,28.8,14,46],[2009.4,17,10,30],[2009.55,11,7,20],[2009.7,8,5,14],[2009.85,11,6,16],[2009.95,2.5,1.5,4],[2010.1,3.0,2,5.5],[2010.3,3.5,2,5.5],[2010.5,2.8,1.7,4.5],[2010.7,2.8,1.7,4.5],[2010.9,2.3,1.4,4],[2011.0,0.3,0.1,0.6],[2011.5,0.5,0.2,0.9],[2012.0,0.3,0.1,0.6],[2012.3,1.0,0.5,1.8],[2012.6,1.5,0.8,2.5],[2012.8,2.2,1.2,3.8],[2012.95,2.0,1.1,3.5],[2013.2,1.5,0.8,2.6],[2013.5,2.0,1.1,3.5],[2013.7,1.6,0.9,2.8],[2013.9,2.5,1.4,4],[2014.1,3.2,1.8,5.5],[2014.3,2.5,1.4,4],[2014.5,2.5,1.4,4.2],[2014.7,2.3,1.3,4],[2014.9,2.5,1.4,4.2],[2015.1,3.0,1.7,5],[2015.3,2.5,1.4,4.2],[2015.6,2.2,1.2,3.8],[2015.9,2.3,1.3,4],[2016.0,5,2.8,8],[2016.2,8.5,4.5,13],[2016.35,7,4,12.5],[2016.5,7.5,4,14],[2016.65,8.8,4.5,14],[2016.7,1.8,1,3.2],[2016.9,1.5,0.8,2.6],[2017.1,2.0,1.1,3.4],[2017.3,1.7,1,3],[2017.5,1.0,0.5,1.8],[2017.7,1.5,0.8,2.6],[2017.9,1.0,0.5,1.8],[2018.1,0.8,0.4,1.5],[2018.4,1.3,0.7,2.3],[2018.6,1.0,0.5,1.8],[2018.8,2.0,1.1,3.4],[2019.0,3.0,1.7,4.5],[2019.2,2.5,1.4,4],[2019.4,2.7,1.5,4],[2019.7,2.0,1.1,3.4],[2019.95,1.0,0.5,1.8],[2020.3,1.2,0.6,2.2],[2020.6,1.0,0.5,1.8],[2020.93,0.8,0.4,1.5]];

const montesBlack = [[2002.0,8.0],[2002.11,4.4],[2002.2,1.5],[2002.25,0],[2002.34,4.7],[2002.42,2.6],[2002.51,4.4],[2002.59,1.5],[2002.68,1.1],[2002.79,2.4],[2002.86,2.6],[2002.96,0],[2003.24,0],[2003.33,1.1],[2003.41,10.1],[2003.48,10.6],[2003.58,4.0],[2003.67,2.4],[2003.75,1.7],[2003.88,1.1],[2003.98,0.5],[2004.06,2.4],[2004.13,0.3],[2004.23,0],[2004.34,1.5],[2004.46,2.0],[2004.54,0.9],[2004.66,4.5],[2004.77,2.2],[2004.94,0],[2005.01,0.5],[2005.08,0],[2005.22,0.3],[2005.36,3.6],[2005.49,6.4],[2005.59,3.6],[2005.7,3.2],[2005.83,0.9],[2005.95,3.6],[2006.04,0.7],[2006.15,3.6],[2006.25,0.1],[2006.38,3.6],[2006.48,7.8],[2006.56,4.4],[2006.66,1.3],[2006.77,0.3],[2006.92,0.1],[2007.06,1.5],[2007.2,2.0],[2007.31,0],[2007.41,2.6],[2007.55,1.1],[2007.73,1.5],[2007.88,3.6],[2007.98,1.5],[2008.12,2.2],[2008.22,0.5],[2008.4,2.6],[2008.54,0.5],[2008.68,0.3],[2008.82,0.4],[2008.96,0.7],[2009.06,6.0],[2009.15,28.2],[2009.25,5.2],[2009.34,1.1],[2009.46,0],[2009.56,5.0],[2009.66,1.1],[2009.78,0],[2009.95,0.3],[2010.16,0.3],[2010.31,2.2],[2010.45,1.5],[2010.59,2.4],[2010.73,3.4],[2010.87,3.4],[2010.98,3.6],[2011.07,7.6],[2011.14,32.2],[2011.22,5.6],[2011.32,0],[2011.46,2.0],[2011.58,2.4],[2011.66,5.2],[2011.76,1.1],[2011.93,0.9],[2012.07,0.7],[2012.21,0],[2012.32,4.0],[2012.4,6.8],[2012.47,12.3],[2012.54,9.3],[2012.64,3.4],[2012.73,6.6],[2012.82,5.2],[2012.89,12.2],[2012.96,11.1],[2013.05,12.4],[2013.13,8.5],[2013.21,5.2],[2013.3,3.6],[2013.41,5.6],[2013.51,8.9],[2013.58,7.6],[2013.67,3.2],[2013.74,1.3],[2013.84,1.3],[2013.91,4.8],[2013.98,2.4],[2014.05,6.4],[2014.15,5.8],[2014.26,6.9],[2014.33,3.6],[2014.4,0.3],[2014.47,4.6],[2014.57,4.2],[2014.64,12.3],[2014.75,3.2],[2014.82,4.0],[2014.91,5.7],[2015.01,4.0],[2015.14,0],[2015.25,2.8],[2015.32,3.8],[2015.39,0.7],[2015.49,0.7],[2015.57,3.6],[2015.64,11.7],[2015.71,24.6],[2015.81,11.1],[2015.93,2.4],[2016.03,3.6],[2016.12,3.4],[2016.24,0.7],[2016.32,4.4],[2016.41,2.0],[2016.49,0.9],[2016.6,2.0],[2016.7,3.4],[2016.8,6.0],[2016.9,2.0],[2016.99,6.0],[2017.07,13.7],[2017.14,19.7],[2017.23,10.5],[2017.31,3.2],[2017.4,10.3],[2017.48,7.2],[2017.58,5.2],[2017.65,5.0],[2017.72,6.0],[2017.82,4.4],[2017.9,5.2],[2017.99,0],[2018.07,2.4],[2018.16,0.5],[2018.23,0],[2018.31,12.4],[2018.4,2.4],[2018.48,3.6],[2018.57,3.6],[2018.64,1.5],[2018.75,1.3],[2018.85,1.1],[2018.96,2.8],[2019.06,0],[2019.15,3.6],[2019.22,7.2],[2019.3,3.6],[2019.39,1.5],[2019.49,0],[2019.57,3.6],[2019.63,10.7],[2019.71,4.4],[2019.8,3.2],[2019.88,1.5],[2019.98,0],[2020.19,0],[2020.4,0.3],[2020.52,0],[2020.62,1.1],[2020.71,1.3],[2020.8,2.0],[2020.89,1.5]];
const montesFit = [[2002.0,2.8,1.3,5.0],[2002.11,3.8,2.0,5.5],[2002.25,3.4,1.8,4.8],[2002.4,3.0,1.5,4.6],[2002.6,2.6,1.3,4.3],[2002.82,2.2,1.1,3.8],[2003.03,2.6,1.3,4.4],[2003.13,3.4,1.8,5.2],[2003.24,3.0,1.5,4.8],[2003.45,3.6,2.0,5.6],[2003.67,3.6,2.0,6.0],[2003.84,3.0,1.5,5.4],[2003.95,1.5,0.7,2.5],[2004.16,1.3,0.6,2.4],[2004.37,1.5,0.7,2.6],[2004.58,1.5,0.7,2.8],[2004.8,1.3,0.6,2.5],[2005.01,1.7,0.8,3.0],[2005.22,2.0,1.0,3.5],[2005.43,2.6,1.3,4.2],[2005.64,2.4,1.2,4.0],[2005.86,2.2,1.1,3.8],[2006.07,2.6,1.3,4.5],[2006.28,3.0,1.5,4.8],[2006.49,3.0,1.5,4.8],[2006.7,2.4,1.2,4.2],[2006.92,2.2,1.1,3.8],[2007.13,1.7,0.8,3.2],[2007.34,2.0,1.0,3.4],[2007.55,2.0,1.0,3.6],[2007.76,1.5,0.7,3.0],[2007.97,1.7,0.8,3.2],[2008.19,1.3,0.6,2.6],[2008.4,1.1,0.5,2.2],[2008.61,1.1,0.5,2.0],[2008.82,0.9,0.4,1.8],[2008.96,0.7,0.3,1.2],[2009.03,3.2,1.8,5.5],[2009.17,4.2,2.3,6.7],[2009.32,3.4,1.8,6.0],[2009.53,3.6,2.0,6.2],[2009.74,3.4,1.8,6.2],[2009.91,3.4,1.8,6.0],[2010.0,0.9,0.4,1.8],[2010.16,1.1,0.5,2.2],[2010.38,1.5,0.7,2.8],[2010.59,2.0,1.0,3.5],[2010.8,1.7,0.8,3.2],[2010.94,2.0,1.0,3.5],[2011.04,6.0,3.3,10.3],[2011.15,6.4,3.6,10.0],[2011.29,4.6,2.5,7.8],[2011.51,4.2,2.3,7.5],[2011.65,4.4,2.4,8.5],[2011.83,3.4,1.8,6.5],[2012.0,4.4,2.4,7.5],[2012.14,5.2,2.8,9.0],[2012.31,5.8,3.2,9.2],[2012.49,6.4,3.5,9.8],[2012.66,6.0,3.3,9.5],[2012.85,4.2,2.4,7.2],[2012.99,5.4,3.0,8.8],[2013.13,6.6,3.6,11.5],[2013.34,6.0,3.3,11.8],[2013.48,6.6,3.6,10.0],[2013.62,6.8,3.8,11.0],[2013.81,6.0,3.3,10.0],[2013.98,4.8,2.6,8.5],[2014.19,5.2,2.8,9.0],[2014.37,5.6,3.0,9.5],[2014.54,5.0,2.7,8.8],[2014.75,5.4,3.0,9.5],[2014.97,6.0,3.3,10.0],[2015.14,7.7,4.2,12.8],[2015.25,6.0,3.3,10.5],[2015.39,6.6,3.6,11.0],[2015.6,6.5,3.6,10.5],[2015.81,6.0,3.3,10.0],[2015.95,2.0,1.0,3.6],[2016.09,2.4,1.2,4.2],[2016.31,3.2,1.7,5.5],[2016.52,3.4,1.8,6.0],[2016.73,4.4,2.4,7.5],[2016.92,5.0,2.7,9.0],[2017.06,9.5,4.8,15.0],[2017.2,7.2,4.0,12.0],[2017.37,6.6,3.6,11.0],[2017.58,6.0,3.3,9.8],[2017.79,5.4,3.0,8.5],[2017.96,4.0,2.2,6.5],[2018.14,2.6,1.4,4.8],[2018.36,3.2,1.7,5.5],[2018.57,2.8,1.5,5.0],[2018.78,2.4,1.3,4.3],[2018.96,3.2,1.7,5.2],[2019.16,2.6,1.4,4.8],[2019.34,3.2,1.7,5.8],[2019.56,3.6,2.0,6.0],[2019.77,3.4,1.8,5.8],[2019.91,3.2,1.7,5.5],[2020.01,0.3,0.1,0.8],[2020.19,0.3,0.1,0.9],[2020.4,0.4,0.15,1.0],[2020.62,0.5,0.2,1.1],[2020.89,0.4,0.15,1.0]];

const liberiaBlack = [[2002.0,3.7],[2002.07,1.0],[2002.13,0],[2002.3,0.1],[2002.5,0.4],[2002.65,0.6],[2002.74,1.0],[2002.85,0.7],[2002.92,0.7],[2002.98,6.6],[2003.08,0],[2003.14,1.1],[2003.24,0.8],[2003.35,0.2],[2003.5,0.7],[2003.59,5.1],[2003.67,10.6],[2003.74,17.5],[2003.9,15.7],[2003.98,7.8],[2004.07,1.6],[2004.2,1.2],[2004.32,0.6],[2004.41,2.7],[2004.5,1.4],[2004.6,1.5],[2004.7,1.5],[2004.8,1.3],[2004.9,0.6],[2005.05,0.8],[2005.2,0.4],[2005.35,0.2],[2005.51,0.45],[2005.6,1.1],[2005.7,1.7],[2005.8,3.1],[2005.89,5.2],[2006.0,7.9],[2006.08,5.2],[2006.16,2.0],[2006.25,1.2],[2006.33,0.1],[2006.45,0.5],[2006.6,1.2],[2006.72,1.8],[2006.8,3.5],[2006.87,11.2],[2006.98,10.8],[2007.06,5.8],[2007.14,3.1],[2007.22,3.0],[2007.29,2.2],[2007.35,5.3],[2007.45,7.8],[2007.52,9.6],[2007.61,7.7],[2007.72,6.0],[2007.83,3.1],[2007.92,1.3],[2008.05,0.6],[2008.2,0.2],[2008.35,0.6],[2008.45,0.6],[2008.57,1.0],[2008.67,1.2],[2008.76,1.7],[2008.85,1.3],[2008.95,1.1],[2009.03,2.0],[2009.1,0],[2009.25,0.4],[2009.35,0.7],[2009.44,1.8],[2009.5,0.6],[2009.65,0.2],[2009.75,0.7],[2009.9,1.7],[2009.99,2.8],[2010.07,2.3],[2010.15,1.2],[2010.25,0.0],[2010.35,0.45],[2010.5,0.7],[2010.59,2.6],[2010.65,2.2],[2010.75,2.2],[2010.85,2.7],[2010.92,3.5],[2011.0,6.0],[2011.07,4.1],[2011.15,6.1],[2011.22,3.5],[2011.28,1.1],[2011.4,0.6],[2011.5,0.2],[2011.65,0.45],[2011.85,0.7],[2011.96,1.2],[2012.05,0.6],[2012.2,0.8],[2012.35,0.6],[2012.5,0.5],[2012.7,1.3],[2012.78,3.5],[2012.85,5.3],[2012.92,7.4],[2013.0,5.3],[2013.08,2.8],[2013.15,1.0],[2013.3,0.6],[2013.45,0.5],[2013.55,1.7],[2013.62,3.5],[2013.7,5.2],[2013.75,6.2],[2013.83,4.5],[2013.88,5.0],[2013.95,1.8],[2014.05,0.45],[2014.2,0.3],[2014.4,0.1],[2014.55,0.3],[2014.75,0.7],[2014.9,1.3],[2015.05,2.0],[2015.16,2.2],[2015.26,2.8],[2015.33,2.0],[2015.4,1.0],[2015.55,0.6],[2015.7,1.2],[2015.78,3.2],[2015.85,6.1],[2015.92,1.5],[2016.0,0.6],[2016.15,0.9],[2016.3,0.2],[2016.45,0.45],[2016.6,1.3],[2016.75,1.0],[2016.9,0.7],[2017.05,0.45],[2017.2,0.7],[2017.35,0.3],[2017.5,0.2],[2017.6,0.45],[2017.7,0],[2017.8,0.4],[2017.85,0],[2017.95,0.6],[2018.05,0.8],[2018.12,0],[2018.25,0.8],[2018.35,1.5],[2018.49,2.8],[2018.57,1.1],[2018.65,1.7],[2018.73,0.7],[2018.8,0],[2018.95,0.8],[2019.05,1.6],[2019.13,0.45],[2019.3,0.1],[2019.5,0.2],[2019.62,0.45],[2019.7,0.95],[2019.8,0.6],[2019.9,0.45],[2020.0,0],[2020.93,0.05]];
const liberiaFit = [[2002.0,0.9,0.5,1.5],[2002.1,0.6,0.35,1.0],[2002.3,0.4,0.25,0.7],[2002.6,0.7,0.4,1.2],[2002.8,1.0,0.6,1.8],[2002.95,1.5,0.9,2.5],[2003.0,7.8,3.5,12.5],[2003.1,5.0,2.7,7.5],[2003.2,3.5,1.9,5.5],[2003.35,1.8,1.1,3.2],[2003.45,2.3,1.3,3.6],[2003.6,4.5,2.5,8.0],[2003.75,8.2,4.5,12.8],[2003.85,7.5,4.2,12],[2003.95,4.2,2.3,6.8],[2004.05,1.5,0.8,2.5],[2004.2,0.9,0.5,1.5],[2004.35,1.1,0.6,1.8],[2004.55,2.0,1.1,3.5],[2004.87,4.5,2.5,7.4],[2005.0,1.5,0.8,2.5],[2005.15,0.5,0.3,0.9],[2005.35,0.6,0.35,1.0],[2005.6,1.2,0.7,2.0],[2005.8,2.0,1.1,3.5],[2005.95,4.4,2.4,7.2],[2006.1,1.5,0.8,2.6],[2006.25,0.9,0.5,1.5],[2006.5,0.9,0.5,1.6],[2006.7,1.6,0.9,2.9],[2006.85,6.5,3.5,12],[2006.95,8.0,4.5,16.8],[2007.1,3.5,1.9,6.5],[2007.25,2.9,1.6,5.0],[2007.45,5.5,3.0,9.0],[2007.6,8.0,4.5,12.5],[2007.8,9.7,5.8,16.0],[2007.9,4.5,2.5,8.0],[2008.05,1.5,0.8,2.5],[2008.2,0.8,0.45,1.4],[2008.4,0.4,0.2,0.7],[2008.6,0.8,0.45,1.4],[2008.75,1.3,0.7,2.2],[2008.95,2.0,1.1,3.2],[2009.1,0.7,0.4,1.2],[2009.3,0.3,0.15,0.6],[2009.5,0.6,0.3,1.0],[2009.75,1.2,0.65,2.0],[2009.95,2.6,1.5,3.8],[2010.1,1.5,0.8,2.4],[2010.3,0.7,0.4,1.2],[2010.5,1.3,0.7,2.2],[2010.7,2.3,1.3,3.6],[2010.85,3.0,1.8,4.1],[2010.95,2.4,1.3,3.7],[2011.1,1.0,0.55,1.7],[2011.3,0.8,0.45,1.4],[2011.55,1.7,0.9,3.0],[2011.75,2.6,1.4,4.2],[2011.95,1.2,0.65,2.0],[2012.15,0.8,0.45,1.4],[2012.35,0.7,0.4,1.2],[2012.55,1.6,0.9,2.7],[2012.75,3.0,1.7,4.8],[2012.9,4.7,2.8,6.5],[2013.05,2.0,1.1,3.3],[2013.25,0.9,0.5,1.6],[2013.45,1.6,0.9,2.7],[2013.6,2.6,1.5,4.2],[2013.75,4.0,2.3,6.4],[2013.85,4.1,2.3,6.4],[2013.95,1.0,0.55,1.7],[2014.15,0.4,0.2,0.7],[2014.35,0.5,0.25,0.9],[2014.55,0.7,0.4,1.2],[2014.75,1.0,0.55,1.8],[2014.95,1.5,0.8,2.6],[2015.0,3.1,1.7,5.1],[2015.1,2.2,1.2,3.6],[2015.25,0.9,0.5,1.6],[2015.45,0.7,0.4,1.2],[2015.65,1.1,0.6,1.9],[2015.8,3.5,1.9,5.7],[2015.95,0.9,0.5,1.6],[2016.15,0.4,0.2,0.7],[2016.35,0.6,0.3,1.0],[2016.55,1.0,0.55,1.7],[2016.7,1.4,0.8,2.6],[2016.85,0.6,0.3,1.0],[2017.05,0.3,0.15,0.55],[2017.25,0.3,0.15,0.55],[2017.45,0.6,0.3,1.1],[2017.6,2.3,1.2,3.7],[2017.75,1.0,0.55,1.7],[2017.9,0.4,0.2,0.7],[2018.1,0.3,0.15,0.55],[2018.3,0.7,0.4,1.2],[2018.5,1.4,0.8,2.4],[2018.65,2.0,1.1,3.6],[2018.75,0.6,0.3,1.0],[2018.95,0.2,0.1,0.4],[2019.15,0.3,0.15,0.55],[2019.35,0.4,0.2,0.7],[2019.55,0.6,0.3,1.0],[2019.7,0.8,0.4,1.4],[2019.8,0.1,0.05,0.2],[2020.2,0.05,0.02,0.1],[2020.93,0.1,0.05,0.25]];

const panelNames = ['Talamanca', 'Perez Zeledón', 'Orotina', 'Alajuela', 'Limon', 'Puntarenas', 'Quepos', 'Montes de Oro', 'Liberia'];
const panelBlack = [talamancaBlack, perezBlack, orotinaBlack, alajuelaBlack, limonBlack, puntarenasBlack, queposBlack, montesBlack, liberiaBlack];
const panelFit = [talamancaFit, perezFit, orotinaFit, alajuelaFit, limonFit, puntarenasFit, queposFit, montesFit, liberiaFit];
const panelTicks = [talamancaTicks, perezTicks, orotinaTicks, alajuelaTicks, limonTicks, puntarenasTicks, queposTicks, montesTicks, liberiaTicks];

// ---------- layout ----------
const NS = 'http://www.w3.org/2000/svg';
const svg = document.getElementById('chart');
const colLeft = [267, 1716, 3166];
const stripTop = [23, 972, 1922];
const PW = 1318, SH = 191, PH = 640;
const xSpan = timeEnd - timeStart;
const xLo = timeStart - 0.05 * xSpan, xHi = timeEnd + 0.05 * xSpan;

function el(tag, parent) { const e = document.createElementNS(NS, tag); parent.appendChild(e); return e; }
function slug(s) { return s.toLowerCase().normalize('NFD').replace(/[\u0300-\u036f]/g, '').replace(/[^a-z0-9]+/g, '-'); }

panelNames.forEach((name, i) => {
  const col = i % 3, row = Math.floor(i / 3);
  const L = colLeft[col], sT = stripTop[row], T = sT + SH, B = T + PH, R = L + PW;
  const black = panelBlack[i], fit = panelFit[i], ticks = panelTicks[i];
  const key = slug(name);
  let ymax = 0;
  black.forEach(p => { ymax = Math.max(ymax, p[1]); });
  fit.forEach(p => { ymax = Math.max(ymax, p[3], p[1]); });
  const yLo = -0.05 * ymax, yHi = ymax * 1.05;
  const X = t => L + (t - xLo) / (xHi - xLo) * PW;
  const Y = v => T + (yHi - v) / (yHi - yLo) * PH;

  const g = el('g', svg);
  
  

  const bg = el('rect', g);
  bg.setAttribute('x', L); bg.setAttribute('y', T); bg.setAttribute('width', PW); bg.setAttribute('height', PH); bg.setAttribute('fill', '#fff');
  
  

  // minor grid
  const step = ticks[1] - ticks[0];
  const minors = [];
  for (let k = 0; k < ticks.length; k++) { const m = ticks[k] + step / 2; if (m < yHi) minors.push(m); }
  minors.forEach(m => {
    const ln = el('line', g);
    ln.setAttribute('x1', L); ln.setAttribute('x2', R); ln.setAttribute('y1', Y(m)); ln.setAttribute('y2', Y(m));
    ln.setAttribute('stroke', '#EBEBEB'); ln.setAttribute('stroke-width', '1.8');
    
    
  });
  xMinorTicks.forEach(t => {
    const ln = el('line', g);
    ln.setAttribute('x1', X(t)); ln.setAttribute('x2', X(t)); ln.setAttribute('y1', T); ln.setAttribute('y2', B);
    ln.setAttribute('stroke', '#EBEBEB'); ln.setAttribute('stroke-width', '1.8');
    
    
  });
  ticks.forEach(v => {
    const ln = el('line', g);
    ln.setAttribute('x1', L); ln.setAttribute('x2', R); ln.setAttribute('y1', Y(v)); ln.setAttribute('y2', Y(v));
    ln.setAttribute('stroke', '#EBEBEB'); ln.setAttribute('stroke-width', '3.6');
    
    
    const tk = el('line', g);
    tk.setAttribute('x1', L - 12); tk.setAttribute('x2', L); tk.setAttribute('y1', Y(v)); tk.setAttribute('y2', Y(v));
    tk.setAttribute('stroke', '#333'); tk.setAttribute('stroke-width', '3.4');
    
    
    const tx = el('text', g);
    tx.setAttribute('x', L - 22); tx.setAttribute('y', Y(v) + 30);
    tx.setAttribute('font-size', '84'); tx.setAttribute('fill', '#4D4D4D'); tx.setAttribute('text-anchor', 'end');
    tx.textContent = String(v);
    
    
  });
  xTicks.forEach(t => {
    const ln = el('line', g);
    ln.setAttribute('x1', X(t)); ln.setAttribute('x2', X(t)); ln.setAttribute('y1', T); ln.setAttribute('y2', B);
    ln.setAttribute('stroke', '#EBEBEB'); ln.setAttribute('stroke-width', '3.6');
    
    
    const tk = el('line', g);
    tk.setAttribute('x1', X(t)); tk.setAttribute('x2', X(t)); tk.setAttribute('y1', B); tk.setAttribute('y2', B + 12);
    tk.setAttribute('stroke', '#333'); tk.setAttribute('stroke-width', '3.4');
    
    
    const tx = el('text', g);
    tx.setAttribute('x', X(t)); tx.setAttribute('y', B + 76);
    tx.setAttribute('font-size', '84'); tx.setAttribute('fill', '#4D4D4D'); tx.setAttribute('text-anchor', 'middle');
    tx.textContent = String(t);
    
    
  });

  // credible band
  let d = '';
  fit.forEach((p, k) => { d += (k ? 'L' : 'M') + X(p[0]).toFixed(1) + ',' + Y(p[3]).toFixed(1); });
  for (let k = fit.length - 1; k >= 0; k--) { d += 'L' + X(fit[k][0]).toFixed(1) + ',' + Y(fit[k][2]).toFixed(1); }
  d += 'Z';
  const band = el('path', g);
  band.setAttribute('d', d); band.setAttribute('fill', '#FF0000'); band.setAttribute('fill-opacity', '0.5');
  
  

  // reference line at 0
  const hl = el('line', g);
  hl.setAttribute('x1', L); hl.setAttribute('x2', R); hl.setAttribute('y1', Y(0)); hl.setAttribute('y2', Y(0));
  hl.setAttribute('stroke', '#B3B3B3'); hl.setAttribute('stroke-width', '4.5'); hl.setAttribute('stroke-dasharray', '18,16');
  
  

  // fitted mean line
  const fl = el('polyline', g);
  fl.setAttribute('points', fit.map(p => X(p[0]).toFixed(1) + ',' + Y(p[1]).toFixed(1)).join(' '));
  fl.setAttribute('fill', 'none'); fl.setAttribute('stroke', '#FF0000'); fl.setAttribute('stroke-width', '4.2'); fl.setAttribute('stroke-linejoin', 'round');
  
  

  // observed line
  const bl = el('polyline', g);
  bl.setAttribute('points', black.map(p => X(p[0]).toFixed(1) + ',' + Y(p[1]).toFixed(1)).join(' '));
  bl.setAttribute('fill', 'none'); bl.setAttribute('stroke', '#000'); bl.setAttribute('stroke-width', '4.2'); bl.setAttribute('stroke-linejoin', 'round');
  
  

  // panel border
  const bd = el('rect', g);
  bd.setAttribute('x', L); bd.setAttribute('y', T); bd.setAttribute('width', PW); bd.setAttribute('height', PH);
  bd.setAttribute('fill', 'none'); bd.setAttribute('stroke', '#333'); bd.setAttribute('stroke-width', '3.4');
  
  

  // strip
  const st = el('rect', g);
  st.setAttribute('x', L); st.setAttribute('y', sT); st.setAttribute('width', PW); st.setAttribute('height', SH);
  st.setAttribute('fill', '#D9D9D9'); st.setAttribute('stroke', '#333'); st.setAttribute('stroke-width', '3.4');
  
  
  const stx = el('text', g);
  stx.setAttribute('x', L + PW / 2); stx.setAttribute('y', sT + 158);
  stx.setAttribute('font-size', '162'); stx.setAttribute('fill', '#1A1A1A'); stx.setAttribute('text-anchor', 'middle');
  stx.textContent = name;
  
  
});
</script>
</body></html>
